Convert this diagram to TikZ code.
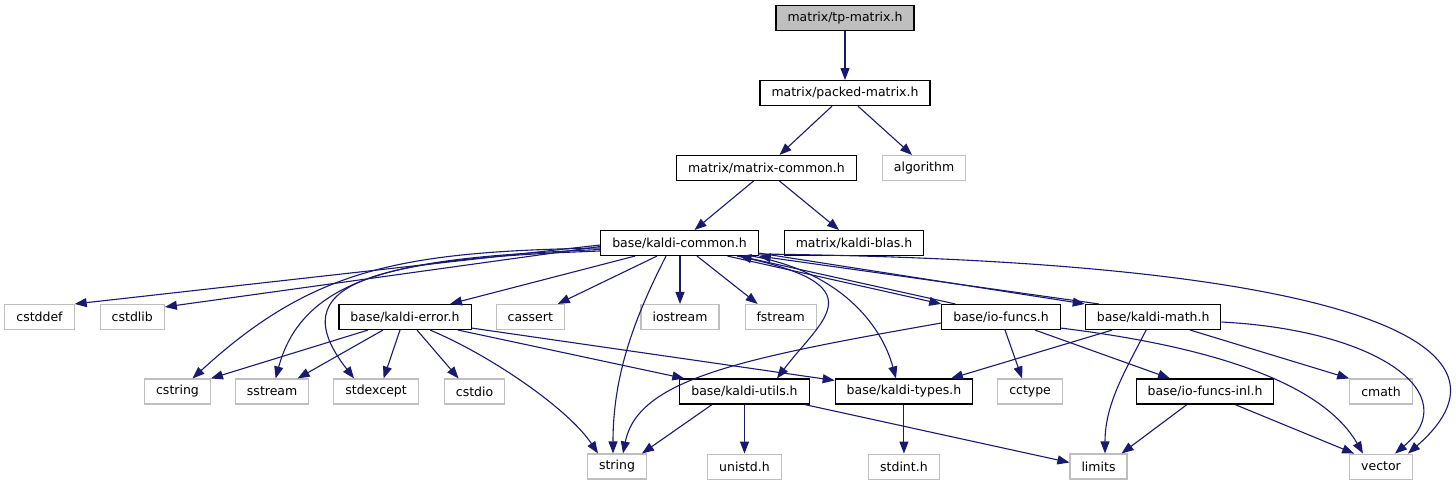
\documentclass[tikz,border=0pt]{standalone}
\usepackage{fontspec}
\setmainfont{DejaVu Sans}
\usetikzlibrary{arrows.meta,positioning}
\definecolor{edgeblue}{HTML}{191970}
\definecolor{extgray}{HTML}{BFBFBF}

\begin{document}
\begin{tikzpicture}[x=1pt,y=1pt,>={Triangle[length=12pt,width=9pt]},node distance=24pt]
  \tikzstyle{box}=[draw=black,line width=1.1pt,minimum height=25pt,inner xsep=11.5pt,inner ysep=0pt,font=\fontsize{12.5}{15}\selectfont]
  \tikzstyle{sysbox}=[box,draw=extgray]
  \tikzstyle{dep}=[->,color=edgeblue,line width=1.1pt]
  \useasboundingbox (0,0) rectangle (1456,-485);

  \node[box,fill=extgray] (tp) at (845,-18) {matrix/tp-matrix.h};
  \node[box,below=49pt of tp] (packed) {matrix/packed-matrix.h};
  \node[box] (mcommon) at (766.5,-168) {matrix/matrix-common.h};
  \node[sysbox,right=25pt of mcommon] (algo) {algorithm};
  \node[box] (kcommon) at (679.5,-243) {base/kaldi-common.h};
  \node[box,right=25pt of kcommon] (blas) {matrix/kaldi-blas.h};

  \node[sysbox] (cstddef) at (39.5,-317) {cstddef};
  \node[sysbox,right=25pt of cstddef] (cstdlib) {cstdlib};
  \node[box] (kerror) at (405,-317) {base/kaldi-error.h};
  \node[sysbox,right=of kerror] (cassert) {cassert};
  \node[sysbox] (iostream) at (680,-317) {iostream};
  \node[sysbox,right=25pt of iostream] (fstream) {fstream};
  \node[box] (iofuncs) at (1001,-317) {base/io-funcs.h};
  \node[box,right=of iofuncs] (kmath) {base/kaldi-math.h};

  \node[sysbox] (cstring) at (177.5,-391.5) {cstring};
  \node[sysbox,right=of cstring] (sstream) {sstream};
  \node[sysbox,right=of sstream] (stdexcept) {stdexcept};
  \node[sysbox,right=25pt of stdexcept] (cstdio) {cstdio};
  \node[box] (kutils) at (744.5,-391.5) {base/kaldi-utils.h};
  \node[box,right=25pt of kutils] (ktypes) {base/kaldi-types.h};
  \node[sysbox,right=of ktypes] (cctype) {cctype};
  \node[box] (ioinl) at (1205,-391.5) {base/io-funcs-inl.h};
  \node[sysbox] (cmath) at (1381,-391.5) {cmath};

  \node[sysbox] (string) at (617,-466.5) {string};
  \node[sysbox,below=49pt of kutils] (unistd) {unistd.h};
  \node[sysbox,below=49pt of ktypes] (stdint) {stdint.h};
  \node[sysbox] (limits) at (1098.5,-466.5) {limits};
  \node[sysbox,below=49pt of cmath] (vector) {vector};

  \draw[dep] (tp) -- (packed);
  \draw[dep] ([xshift=-13pt]packed.south) -- ([xshift=13pt]mcommon.north);
  \draw[dep] ([xshift=13pt]packed.south) -- ([xshift=-12pt]algo.north);
  \draw[dep] ([xshift=-13pt]mcommon.south) -- ([xshift=15pt]kcommon.north);
  \draw[dep] ([xshift=13pt]mcommon.south) -- ([xshift=-15pt]blas.north);

  \draw[dep] ([yshift=-2pt]kcommon.west) -- (cstddef.north east);
  \draw[dep] ([yshift=-3.5pt]kcommon.west) -- ([yshift=-3pt]cstdlib.north east);
  \draw[dep] ([yshift=-5pt]kcommon.west) to[out=181,in=42.5,out distance=200pt,in distance=163pt] ([xshift=15pt]cstring.north);
  \draw[dep] ([yshift=-6.5pt]kcommon.west) to[out=182.5,in=75,out distance=180pt,in distance=114pt] ([xshift=3.5pt]sstream.north);
  \draw[dep] ([yshift=-8pt]kcommon.west) to[out=182,in=128,out distance=230pt,in distance=121pt] ([xshift=-22pt]stdexcept.north);
  \draw[dep] ([xshift=-13.5pt]kcommon.south) to[out=243,in=90,out distance=67pt,in distance=80pt] ([xshift=-4pt]string.north);
  \draw[dep] ([xshift=-44.5pt]kcommon.south) -- ([xshift=45pt]kerror.north);
  \draw[dep] ([xshift=-22.5pt]kcommon.south) -- ([xshift=27.5pt]cassert.north);
  \draw[dep] (iostream.north |- kcommon.south) -- (iostream.north);
  \draw[dep] ([xshift=17.5pt]kcommon.south) -- ([xshift=-23pt]fstream.north);
  \draw[dep] ([xshift=57.5pt]kcommon.south) to[out=-11.5,in=53,out distance=146pt,in distance=75pt] ([xshift=32.5pt]kutils.north);
  \draw[dep] ([xshift=-7pt]kcommon.south east) to[out=-10,in=105,out distance=89pt,in distance=56pt] ([xshift=-8pt]ktypes.north);
  \draw[dep] ([yshift=2pt]kcommon.south east) to[out=-0.6,in=41,out distance=571pt,in distance=174pt] ([xshift=27pt]vector.north);
  \draw[dep] ([xshift=48pt]kcommon.south) -- (iofuncs.north west);
  \draw[dep] ([xshift=14pt]iofuncs.north west) -- ([xshift=60pt]kcommon.south);
  \draw[dep] ([yshift=3pt]kcommon.south east) -- (kmath.north west);
  \draw[dep] ([xshift=14pt]kmath.north west) -- (kcommon.south east);

  \draw[dep] ([xshift=-37pt]kerror.south) -- (cstring.north east);
  \draw[dep] ([xshift=-22pt]kerror.south) -- ([xshift=25.5pt]sstream.north);
  \draw[dep] ([xshift=-5pt]kerror.south) -- ([xshift=7.5pt]stdexcept.north);
  \draw[dep] ([xshift=12pt]kerror.south) -- ([xshift=-16pt]cstdio.north);
  \draw[dep] ([xshift=25pt]kerror.south) to[out=-22.6,in=123.7,out distance=65pt,in distance=54pt] ([xshift=-19pt]string.north);
  \draw[dep] ([xshift=53pt]kerror.south) -- ([xshift=5pt]kutils.north west);
  \draw[dep] ([yshift=2pt]kerror.south east) -- ([yshift=-2pt]ktypes.north west);

  \draw[dep] ([yshift=-6pt]iofuncs.west) to[out=190,in=78.7,out distance=203pt,in distance=76pt] ([xshift=6pt]string.north);
  \draw[dep] ([xshift=4pt]iofuncs.south) -- ([xshift=-8pt]cctype.north);
  \draw[dep] ([xshift=34pt]iofuncs.south) -- ([xshift=-35pt]ioinl.north);
  \draw[dep] ([yshift=2pt]iofuncs.south east) to[out=-7,in=120,out distance=141pt,in distance=86pt] ([xshift=-18pt]vector.north);

  \draw[dep] ([xshift=-41pt]kmath.south) -- ([xshift=47pt]ktypes.north);
  \draw[dep] ([xshift=-7pt]kmath.south) to[out=243,in=90,out distance=45pt,in distance=50pt] ([xshift=6.5pt]limits.north);
  \draw[dep] ([xshift=37pt]kmath.south) -- (cmath.north west);
  \draw[dep] ([yshift=-5pt]kmath.east) to[out=-3,in=40,out distance=158pt,in distance=92pt] ([xshift=14pt]vector.north);

  \draw[dep] ([xshift=-32.5pt]kutils.south) -- ([xshift=-5pt]string.north east);
  \draw[dep] (kutils) -- (unistd);
  \draw[dep] ([xshift=-5pt]kutils.south east) -- ([yshift=4pt]limits.west);
  \draw[dep] (ktypes) -- (stdint);
  \draw[dep] ([xshift=-18pt]ioinl.south) -- ([xshift=-6pt]limits.north east);
  \draw[dep] ([xshift=30pt]ioinl.south) -- ([xshift=5pt]vector.north west);
\end{tikzpicture}
\end{document}
